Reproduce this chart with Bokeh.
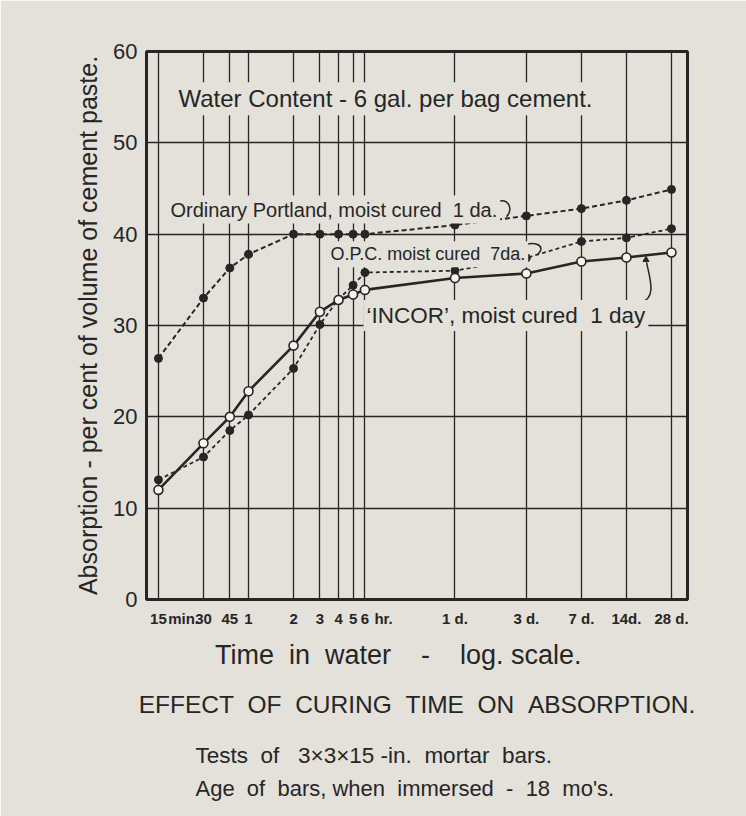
from bokeh.plotting import figure
from bokeh.models import Range1d, FixedTicker, Label, Title
from bokeh.embed import file_html
from bokeh.resources import INLINE

# ---------------- data (time in hours, log scale) ----------------
hours = [0.25, 0.5, 0.75, 1, 2, 3, 4, 5, 6, 24, 72, 168, 336, 672]
tick_labels = ["15", "30", "45", "1", "2", "3", "4", "5", "6",
               "1 d.", "3 d.", "7 d.", "14d.", "28 d."]
# unit words printed after the "15" and "6" tick labels
unit_at = [0.368, 8.0]
unit_labels = ["min.", "hr."]
y_ticks = [0, 10, 20, 30, 40, 50, 60]

ordinary_1da = [26.4, 33.0, 36.3, 37.8, 40.0, 40.0, 40.0, 40.0, 40.0, 41.0, 42.0, 42.8, 43.7, 44.9]
opc_7da = [13.1, 15.6, 18.5, 20.2, 25.3, 30.1, 32.9, 34.4, 35.8, 36.0, 37.4, 39.2, 39.6, 40.6]
incor_1day = [12.0, 17.1, 20.0, 22.8, 27.8, 31.5, 32.8, 33.4, 33.9, 35.2, 35.7, 37.0, 37.45, 38.0]

# ---------------- style ----------------
PAPER = "#e3e1d9"
INK = "#262626"
FONT = "Liberation Sans"
NB = "\u00a0"

p = figure(width=746, height=816, x_axis_type="log",
           x_range=Range1d(0.208, 860), y_range=Range1d(0, 60),
           output_backend="svg", toolbar_location=None,
           min_border_left=146, min_border_right=59,
           min_border_top=51, min_border_bottom=217)

p.background_fill_color = PAPER
p.border_fill_color = PAPER
p.outline_line_color = INK
p.outline_line_width = 3

p.xgrid.ticker = FixedTicker(ticks=hours)
p.xgrid.grid_line_color = INK
p.xgrid.grid_line_width = 1.3
p.ygrid.ticker = FixedTicker(ticks=[10, 20, 30, 40, 50])
p.ygrid.grid_line_color = INK
p.ygrid.grid_line_width = 1.4

# ---- x axis: labels only
xa = p.xaxis[0]
xa.ticker = FixedTicker(ticks=hours + unit_at)
xa.major_label_overrides = {**dict(zip(hours, tick_labels)), **dict(zip(unit_at, unit_labels))}
xa.major_tick_in = 0
xa.major_tick_out = 0
xa.minor_tick_in = 0
xa.minor_tick_out = 0
xa.axis_line_color = None
xa.major_label_text_font = FONT
xa.major_label_text_font_size = "15px"
xa.major_label_text_font_style = "bold"
xa.major_label_text_color = INK
xa.major_label_standoff = 10
xa.axis_label = ("Time" + NB * 2 + "in" + NB * 2 + "water" + NB * 4 + "-" + NB * 4
                 + "log. scale." + NB * 5)
xa.axis_label_text_font = FONT
xa.axis_label_text_font_size = "27px"
xa.axis_label_text_font_style = "normal"
xa.axis_label_text_color = INK
xa.axis_label_standoff = 10

# ---- y axis
ya = p.yaxis[0]
ya.ticker = FixedTicker(ticks=y_ticks)
ya.major_tick_in = 0
ya.major_tick_out = 0
ya.minor_tick_in = 0
ya.minor_tick_out = 0
ya.axis_line_color = None
ya.major_label_text_font = FONT
ya.major_label_text_font_size = "22px"
ya.major_label_text_color = INK
ya.major_label_standoff = 9
ya.axis_label = "Absorption - per cent of volume of cement paste."
ya.axis_label_text_font = FONT
ya.axis_label_text_font_size = "25px"
ya.axis_label_text_font_style = "normal"
ya.axis_label_text_color = INK
ya.axis_label_standoff = 8

# ---------------- series ----------------
p.line(hours, ordinary_1da, line_dash="5 3", line_width=2, color=INK)
p.scatter(hours, ordinary_1da, size=8, color=INK)

p.line(hours, opc_7da, line_dash="4 3", line_width=1.8, color=INK)
p.scatter(hours, opc_7da, size=8, color=INK)

p.line(hours, incor_1day, line_width=2.6, color=INK)
p.scatter(hours, incor_1day, size=9, fill_color="#f5f4ef", line_color=INK, line_width=1.6)

# ---------------- leader hooks (annotation strokes) ----------------
p.bezier(x0=[46.2, 65.8, 417.2], y0=[43.6, 38.44, 32.53],
         x1=[53.0, 85.5, 457.6], y1=[41.9, 37.79, 36.91],
         cx0=[56.4, 76.7, 533.7], cy0=[43.92, 39.54, 32.97],
         cx1=[58.2, 101.2, 486.6], cy1=[42.6, 38.77, 34.94],
         line_color=INK, line_width=1.5)
p.scatter([453.9], [37.2], marker="triangle", size=6, color=INK)

# ---------------- in-plot texts ----------------
def add_text(x, y, text, size):
    lab = Label(x=x, y=y, text=text, text_align="left", text_baseline="alphabetic",
                text_font=FONT, text_font_size=size, text_color=INK,
                background_fill_color=PAPER, background_fill_alpha=1.0, padding=3)
    p.add_layout(lab)

add_text(0.325, 54.84, "Water Content - 6 gal. per bag cement.", "24px")
add_text(0.287, 42.7, "Ordinary Portland, moist cured" + NB * 2 + "1 da.", "20px")
add_text(3.37, 37.8, "O.P.C. moist cured" + NB * 2 + "7da.", "18px")
add_text(5.87, 31.1, "\u2018INCOR\u2019, moist cured" + NB * 2 + "1 day", "22.5px")

# ---------------- chart title and notes (below the axis) ----------------
def add_title(text, size, align, offset, standoff):
    t = Title(text=text, align=align, offset=offset, standoff=standoff,
              text_font=FONT, text_font_size=size, text_font_style="normal",
              text_color=INK)
    p.add_layout(t, "below")

sp2 = NB * 2
add_title(sp2.join(["EFFECT", "OF", "CURING", "TIME", "ON", "ABSORPTION."]), "24.5px", "center", 0, 33)
add_title(sp2.join(["Tests", "of" + NB, "3\u00d73\u00d715 -in.", "mortar", "bars."]), "22.5px", "left", 49, 12)
add_title(sp2.join(["Age", "of", "bars, when", "immersed", "-", "18", "mo's."]), "22px", "left", 49, 0)

open("out.html", "w").write(file_html(p, INLINE))
